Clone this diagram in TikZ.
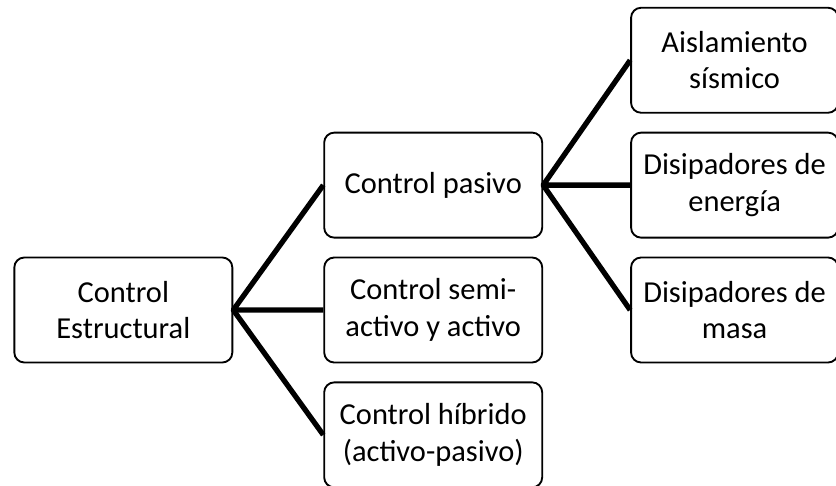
\documentclass[tikz,border=0pt]{standalone}
\usepackage{fontspec}
\setmainfont{Carlito}
\usetikzlibrary{positioning}

\begin{document}
\begin{tikzpicture}[
    box/.style={draw, line width=1.6pt, rounded corners=0.3cm, align=center,
        minimum width=6.54cm, minimum height=3.15cm, inner sep=2pt,
        font=\fontsize{26}{31}\selectfont},
    leaf/.style={box, minimum width=6.21cm},
    link/.style={line width=4.5pt, line join=round}
    ]
    \useasboundingbox (0,0) rectangle (25.08,-14.58);

    \node[box] (root) at (3.7,-9.3) {Control\\Estructural};
    \node[box, right=2.7cm of root] (semi) {Control semi-\\activo y activo};
    \node[box, above=0.54cm of semi] (pasivo) {Control pasivo};
    \node[box, below=0.54cm of semi] (hibrido) {Control híbrido\\(activo-pasivo)};
    \node[leaf, right=2.61cm of pasivo] (energia) {Disipadores de\\energía};
    \node[leaf, above=0.54cm of energia] (aislam) {Aislamiento\\sísmico};
    \node[leaf, below=0.54cm of energia] (masa) {Disipadores de\\masa};

    \draw[link] (pasivo.west) -- (root.east) -- (semi.west);
    \draw[link] (root.east) -- (hibrido.west);
    \draw[link] (aislam.west) -- (pasivo.east) -- (energia.west);
    \draw[link] (pasivo.east) -- (masa.west);
\end{tikzpicture}
\end{document}
